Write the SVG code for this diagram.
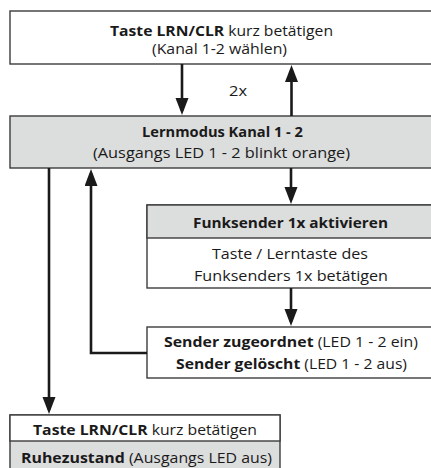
<svg xmlns="http://www.w3.org/2000/svg" width="431" height="468" viewBox="0 0 431 468">
<style>
text{font-family:"Open Sans","Liberation Sans",sans-serif;font-size:15px;fill:#1a1a1a;text-anchor:middle}
.b{font-weight:bold}
.box{stroke:#3c3c3c;stroke-width:1.4}
.w{fill:#fff}
.g{fill:#dcdddd}
.c{fill:none;stroke:#1a1a1a;stroke-width:2.6}
</style>
<defs>
<marker id="ah" markerUnits="userSpaceOnUse" markerWidth="18" markerHeight="14" refX="13" refY="6.5" orient="auto">
<path d="M0,0 L17,6.5 L0,13 z" fill="#1a1a1a"/>
</marker>
</defs>
<rect width="431" height="468" fill="#fff"/>
<g id="n-taste-top">
<rect class="box w" x="10" y="11" width="430" height="53"/>
<text x="221.5" y="36" textLength="223" lengthAdjust="spacingAndGlyphs"><tspan class="b">Taste LRN/CLR</tspan> kurz betätigen</text>
<text x="219.5" y="54" textLength="135" lengthAdjust="spacingAndGlyphs">(Kanal 1-2 wählen)</text>
</g>
<g id="n-lernmodus">
<rect class="box g" x="10" y="116" width="430" height="52"/>
<text x="222.5" y="137" class="b" textLength="161" lengthAdjust="spacingAndGlyphs">Lernmodus Kanal 1 - 2</text>
<text x="221.5" y="158" textLength="257" lengthAdjust="spacingAndGlyphs">(Ausgangs LED 1 - 2 blinkt orange)</text>
</g>
<g id="n-funksender">
<rect class="box w" x="147" y="205" width="293" height="83"/>
<rect class="box g" x="147" y="205" width="293" height="33"/>
<text x="290.5" y="228" class="b" textLength="195" lengthAdjust="spacingAndGlyphs">Funksender 1x aktivieren</text>
<text x="290" y="259" textLength="156" lengthAdjust="spacingAndGlyphs">Taste / Lerntaste des</text>
<text x="291" y="281" textLength="194" lengthAdjust="spacingAndGlyphs">Funksenders 1x betätigen</text>
</g>
<g id="n-sender">
<rect class="box w" x="147" y="327" width="293" height="51"/>
<text x="291" y="347" textLength="254" lengthAdjust="spacingAndGlyphs"><tspan class="b">Sender zugeordnet</tspan> (LED 1 - 2 ein)</text>
<text x="291.5" y="369" textLength="231" lengthAdjust="spacingAndGlyphs"><tspan class="b">Sender gelöscht</tspan> (LED 1 - 2 aus)</text>
</g>
<g id="n-ruhe">
<rect class="box g" x="10" y="415" width="270" height="60"/>
<rect class="box w" x="10" y="415" width="270" height="26"/>
<text x="145" y="435" textLength="224" lengthAdjust="spacingAndGlyphs"><tspan class="b">Taste LRN/CLR</tspan> kurz betätigen</text>
<text x="146.5" y="463" textLength="251" lengthAdjust="spacingAndGlyphs"><tspan class="b">Ruhezustand</tspan> (Ausgangs LED aus)</text>
</g>
<g id="connectors">
<path class="c" d="M182,64 V111" marker-end="url(#ah)"/>
<path class="c" d="M291.5,116 V69" marker-end="url(#ah)"/>
<text x="238" y="96" textLength="18" lengthAdjust="spacingAndGlyphs">2x</text>
<path class="c" d="M291,168 V200" marker-end="url(#ah)"/>
<path class="c" d="M291,288 V322" marker-end="url(#ah)"/>
<path class="c" d="M147,353 H91 V173" marker-end="url(#ah)"/>
<path class="c" d="M49,168 V410" marker-end="url(#ah)"/>
</g>
</svg>
